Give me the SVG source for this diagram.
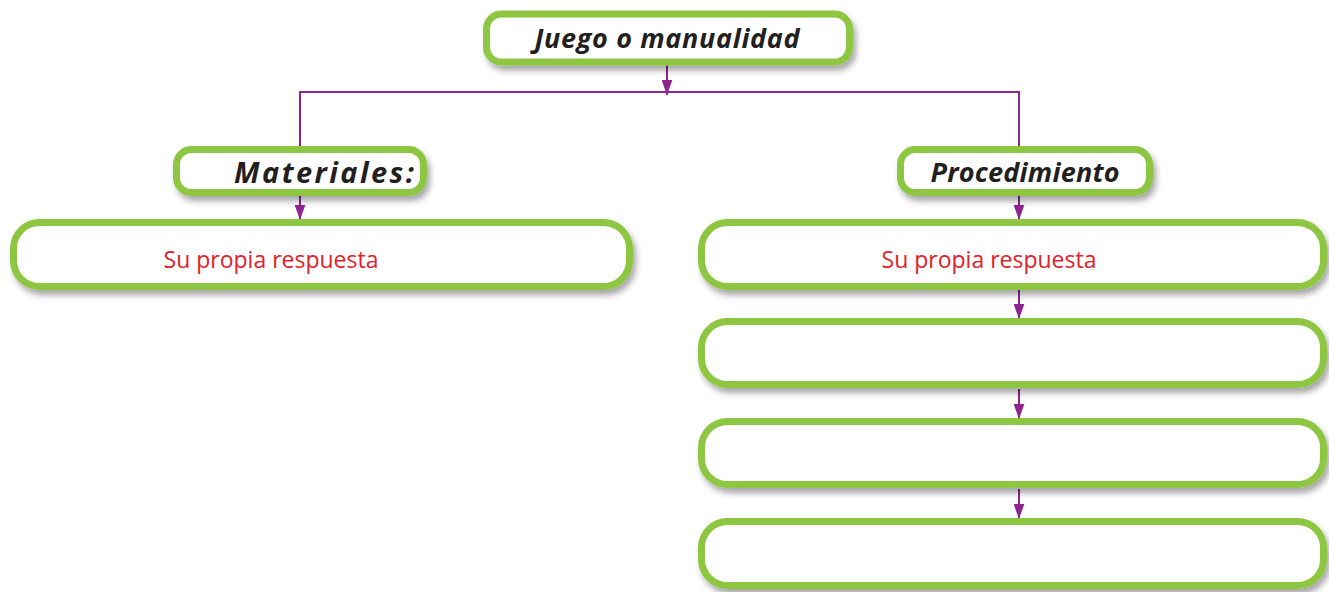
<svg xmlns="http://www.w3.org/2000/svg" width="1329" height="592" viewBox="0 0 1329 592">
<defs>
<filter id="sh" x="-10%" y="-30%" width="120%" height="170%">
<feDropShadow dx="3" dy="5" stdDeviation="3" flood-color="#000" flood-opacity="0.35"/>
</filter>
<marker id="ah" viewBox="0 0 14 10" refX="14" refY="5" markerWidth="7.5" markerHeight="5.5" markerUnits="strokeWidth" orient="auto">
<path d="M0,0 L14,5 L0,10 z" fill="#8E2590"/>
</marker>
<style>
.box{fill:#fff;stroke:#8DC63F;stroke-width:7;filter:url(#sh)}
.hd{font-family:"Open Sans","Lato",sans-serif;font-weight:bold;font-style:italic;font-size:27px;fill:#231F20;text-anchor:middle}
.ans{font-family:"Open Sans","Lato",sans-serif;font-size:23px;fill:#E4202A;text-anchor:middle}
.ln{fill:none;stroke:#8E2590;stroke-width:2}
</style>
</defs>
<g id="connectors">
<line class="ln" x1="667" y1="65" x2="667" y2="95" marker-end="url(#ah)"/>
<polyline class="ln" points="300,146 300,92 1019,92 1019,146"/>
<line class="ln" x1="300" y1="196" x2="300" y2="220" marker-end="url(#ah)"/>
<line class="ln" x1="1019" y1="196" x2="1019" y2="220" marker-end="url(#ah)"/>
<line class="ln" x1="1019" y1="290" x2="1019" y2="319" marker-end="url(#ah)"/>
<line class="ln" x1="1019" y1="389" x2="1019" y2="419" marker-end="url(#ah)"/>
<line class="ln" x1="1019" y1="489" x2="1019" y2="519" marker-end="url(#ah)"/>
</g>
<g id="n-juego">
<rect class="box" x="486.5" y="14" width="363" height="48" rx="15"/>
<text class="hd" x="667" y="48" textLength="265" lengthAdjust="spacing">Juego o manualidad</text>
</g>
<g id="n-materiales">
<rect class="box" x="176.5" y="149.5" width="247" height="43" rx="15"/>
<text class="hd" x="324" y="183" textLength="180" lengthAdjust="spacing" style="font-size:29px">Materiales:</text>
</g>
<g id="n-procedimiento">
<rect class="box" x="900.5" y="149.5" width="249" height="43" rx="15"/>
<text class="hd" x="1025" y="182" textLength="189" lengthAdjust="spacing">Procedimiento</text>
</g>
<g id="n-mat-resp">
<rect class="box" x="13.5" y="222.5" width="616" height="64" rx="26"/>
<text class="ans" x="271" y="268">Su propia respuesta</text>
</g>
<g id="n-proc-1">
<rect class="box" x="701.5" y="222.5" width="622" height="64" rx="26"/>
<text class="ans" x="989" y="268">Su propia respuesta</text>
</g>
<g id="n-proc-2">
<rect class="box" x="701.5" y="321.5" width="622" height="63" rx="26"/>
</g>
<g id="n-proc-3">
<rect class="box" x="701.5" y="421.5" width="622" height="63" rx="26"/>
</g>
<g id="n-proc-4">
<rect class="box" x="701.5" y="521.5" width="622" height="64" rx="26"/>
</g>
</svg>
